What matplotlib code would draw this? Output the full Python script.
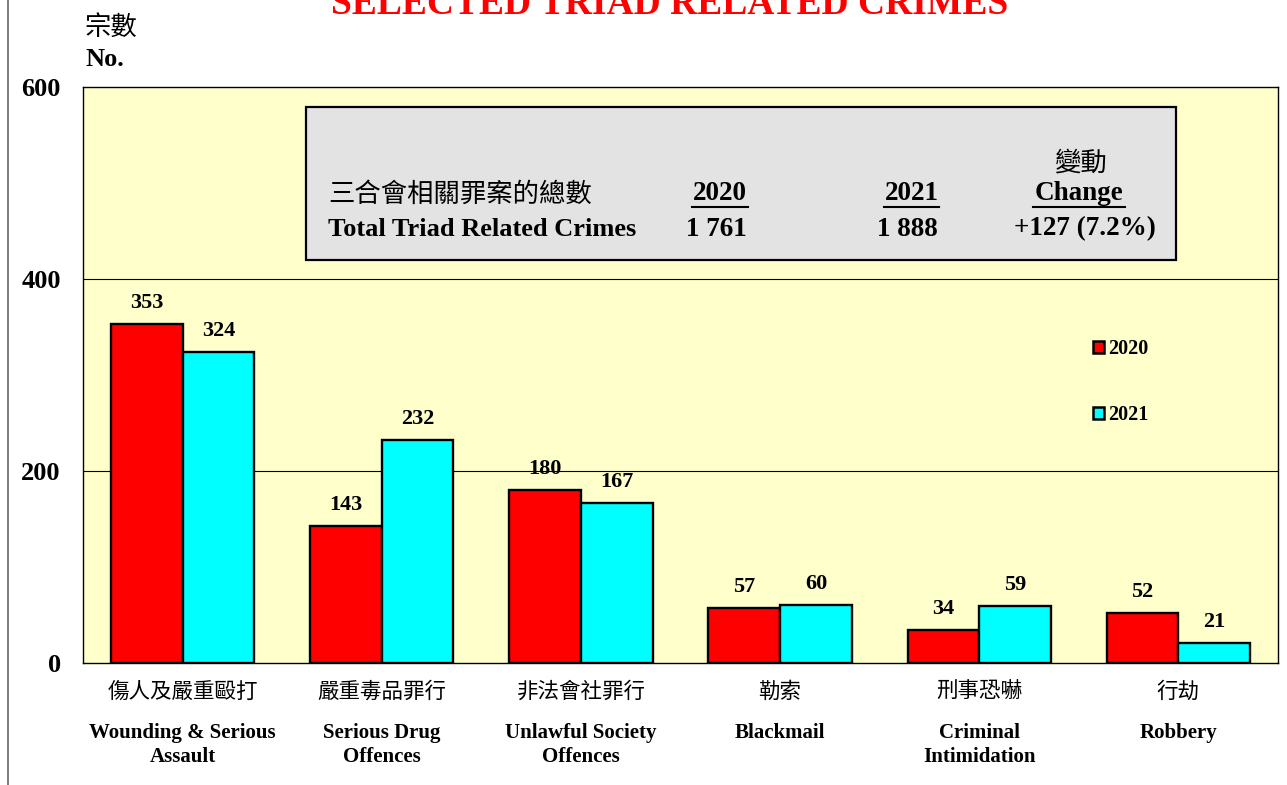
import numpy as np
import matplotlib.pyplot as plt
from matplotlib.patches import Rectangle, Patch

# ---- data ----
cats_zh = ['傷人及嚴重毆打', '嚴重毒品罪行', '非法會社罪行', '勒索', '刑事恐嚇', '行劫']
cats_en = ['Wounding & Serious\nAssault', 'Serious Drug\nOffences', 'Unlawful Society\nOffences',
           'Blackmail', 'Criminal\nIntimidation', 'Robbery']
vals_2020 = [353, 143, 180, 57, 34, 52]
vals_2021 = [324, 232, 167, 60, 59, 21]
years = ['2020', '2021']
totals = ['1 761', '1 888']
change = '+127 (7.2%)'

SERIF = ['Liberation Serif', 'DejaVu Serif']
CJK = ['Noto Sans CJK TC', 'DejaVu Sans']
RED = '#FF0000'
CYAN = '#00FFFF'

fig = plt.figure(figsize=(12.87, 7.85), dpi=100)
ax = fig.add_axes([83/1287, 1-663/785, (1278-83)/1287, (663-87)/785])
ax.set_facecolor('#FFFFCC')

x = np.arange(len(cats_zh))
w = 0.36
b1 = ax.bar(x - w, vals_2020, w, align='edge', color=RED, edgecolor='black', linewidth=1.7, zorder=3)
b2 = ax.bar(x, vals_2021, w, align='edge', color=CYAN, edgecolor='black', linewidth=1.7, zorder=3)

for bars in (b1, b2):
    for r in bars:
        ax.text(r.get_x() + r.get_width()/2, r.get_height() + 22, f'{int(r.get_height())}',
                ha='center', va='center', fontsize=16, fontweight='bold', family=SERIF)

ax.set_xlim(-0.5, 5.5)
ax.set_ylim(0, 600)
ax.set_yticks([0, 200, 400, 600])
ax.set_yticklabels(['0', '200', '400', '600'], fontsize=19, fontweight='bold', family=SERIF)
ax.tick_params(axis='y', length=0, pad=16)
ax.set_xticks([])
for yy in (200, 400):
    ax.axhline(yy, color='black', linewidth=0.8, zorder=1)
for s in ax.spines.values():
    s.set_linewidth(1.0)

# category labels
tr = ax.get_xaxis_transform()
for i in range(len(cats_zh)):
    ax.text(x[i], -0.05, cats_zh[i], transform=tr, ha='center', va='center',
            fontsize=15.5, family=CJK)
    ax.text(x[i], -0.104, cats_en[i], transform=tr, ha='center', va='top',
            fontsize=15, fontweight='bold', family=SERIF, linespacing=1.3)

# summary box
ax.add_patch(Rectangle((0.62, 420), 4.37, 159, facecolor='#E3E3E3', edgecolor='black',
                       linewidth=1.6, zorder=4))
ax.text(0.73, 488, '三合會相關罪案的總數', fontsize=19, family=CJK, va='center', zorder=5)
ax.text(0.73, 452, 'Total Triad Related Crimes', fontsize=19, fontweight='bold',
        family=SERIF, va='center', zorder=5)
for xc, yr, tot in zip([2.70, 3.66], years, totals):
    ax.text(xc, 489, yr, fontsize=19.5, fontweight='bold', family=SERIF, va='center',
            ha='center', zorder=5)
    ax.plot([xc - 0.14, xc + 0.14], [475, 475], color='black', linewidth=1.5, zorder=5)
    ax.text(xc - 0.02, 452, tot, fontsize=19.5, fontweight='bold', family=SERIF, va='center',
            ha='center', zorder=5)
ax.text(4.51, 521, '變動', fontsize=19, family=CJK, va='center', ha='center', zorder=5)
ax.text(4.50, 489, 'Change', fontsize=19.5, fontweight='bold', family=SERIF, va='center',
        ha='center', zorder=5)
ax.plot([4.27, 4.73], [475, 475], color='black', linewidth=1.5, zorder=5)
ax.text(4.53, 452, change, fontsize=19.5, fontweight='bold', family=SERIF, va='center',
        ha='center', zorder=5)

# legend
handles = [Patch(facecolor=RED, edgecolor='black', linewidth=1.8),
           Patch(facecolor=CYAN, edgecolor='black', linewidth=1.8)]
leg = ax.legend(handles, years, loc='upper left', bbox_to_anchor=(0.83, 0.594),
                frameon=False, handlelength=0.55, handleheight=0.55, handletextpad=0.2,
                labelspacing=2.3, prop={'family': SERIF, 'weight': 'bold', 'size': 14.5})

# titles & axis labels
fig.text(670/1287, 1 - 14/785, 'SELECTED TRIAD RELATED CRIMES', color=RED, fontsize=27,
         fontweight='bold', family=SERIF, ha='center', va='baseline')
fig.text(85/1287, 1 - 27/785, '宗數', fontsize=19, family=CJK, ha='left', va='center')
fig.text(85/1287, 1 - 60/785, 'No.', fontsize=19, fontweight='bold', family=SERIF,
         ha='left', va='center')
fig.add_artist(plt.Line2D([8/1287, 8/1287], [0, 1], color='#666666', linewidth=1.2))

fig.savefig('out.png', dpi=100)
